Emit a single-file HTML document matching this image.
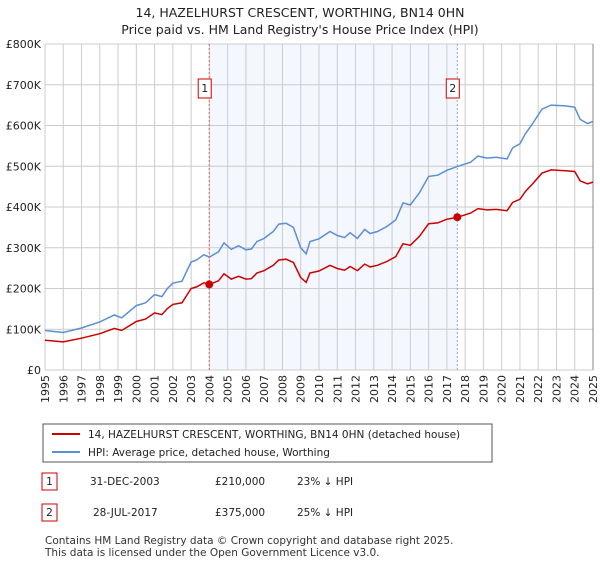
<!DOCTYPE html>
<html><head><meta charset="utf-8"><style>
body{margin:0;background:#fff;font-family:"Liberation Sans","DejaVu Sans",sans-serif;}
svg text{font-family:"DejaVu Sans","Liberation Sans",sans-serif;}
</style></head><body>
<svg id="chart" width="600" height="560" xmlns="http://www.w3.org/2000/svg">
<text x="300" y="17" text-anchor="middle" font-size="12.5" fill="#222">14, HAZELHURST CRESCENT, WORTHING, BN14 0HN</text>
<text x="300" y="34" text-anchor="middle" font-size="12.5" fill="#222">Price paid vs. HM Land Registry's House Price Index (HPI)</text>
<g id="plot"></g>
<g>
<rect x="43" y="424" width="449" height="38" fill="#fff" stroke="#555"/>
<line x1="52" y1="434" x2="80" y2="434" stroke="#cc0000" stroke-width="2"/>
<text x="88" y="438" font-size="10.5" fill="#222">14, HAZELHURST CRESCENT, WORTHING, BN14 0HN (detached house)</text>
<line x1="52" y1="452" x2="80" y2="452" stroke="#5b8fd4" stroke-width="2"/>
<text x="88" y="456" font-size="10.5" fill="#222">HPI: Average price, detached house, Worthing</text>
</g>
<g font-size="10.5" fill="#222">
<rect x="42" y="473" width="15" height="17" fill="#fff" stroke="#cc0000"/>
<text x="49.5" y="485" text-anchor="middle">1</text>
<text x="90" y="485">31-DEC-2003</text><text x="215" y="485">£210,000</text><text x="297" y="485">23% ↓ HPI</text>
<rect x="42" y="504" width="15" height="17" fill="#fff" stroke="#cc0000"/>
<text x="49.5" y="516" text-anchor="middle">2</text>
<text x="93" y="516">28-JUL-2017</text><text x="215" y="516">£375,000</text><text x="297" y="516">25% ↓ HPI</text>
</g>
<text x="45" y="544" font-size="10.5" fill="#333">Contains HM Land Registry data © Crown copyright and database right 2025.</text>
<text x="45" y="556" font-size="10.5" fill="#333">This data is licensed under the Open Government Licence v3.0.</text>
</svg>
<script>
const hpiYears=[1995,1996,1997,1998,1998.8,1999.2,2000,2000.5,2001,2001.4,2001.7,2002,2002.5,2003,2003.3,2003.7,2004,2004.5,2004.8,2005.2,2005.6,2006,2006.3,2006.6,2007,2007.5,2007.8,2008.2,2008.6,2009,2009.3,2009.5,2010,2010.6,2011,2011.4,2011.7,2012.1,2012.5,2012.8,2013.2,2013.7,2014.2,2014.6,2015,2015.5,2016,2016.5,2017,2017.6,2018.3,2018.7,2019.2,2019.7,2020.3,2020.6,2021,2021.3,2021.7,2022.2,2022.7,2023.5,2024,2024.3,2024.7,2025];
const hpiValues=[97,92,103,118,135,128,158,165,185,180,200,213,218,265,270,283,277,290,312,296,305,295,297,315,323,340,358,360,350,300,285,315,322,340,330,325,337,323,345,335,340,352,368,410,405,435,475,478,490,500,510,525,520,522,518,545,555,580,605,640,650,648,645,615,605,610];
const propValues=[73,69,78,89,102,97,119,125,140,136,151,161,165,200,204,214,210,219,236,223,230,223,224,238,244,257,270,272,264,227,215,238,243,257,249,245,254,244,260,253,257,266,278,310,306,328,359,361,370,375,385,396,393,394,391,411,419,438,457,483,491,489,487,464,457,461];
const saleYears=[2003.99,2017.57];
const saleValues=[210,375];
const saleLabels=["1","2"];
const yTicks=[0,100,200,300,400,500,600,700,800];
const yTickLabels=["£0","£100K","£200K","£300K","£400K","£500K","£600K","£700K","£800K"];
const xTicks=[1995,1996,1997,1998,1999,2000,2001,2002,2003,2004,2005,2006,2007,2008,2009,2010,2011,2012,2013,2014,2015,2016,2017,2018,2019,2020,2021,2022,2023,2024,2025];

const L=45,R=593,T=44,B=370;
const xs=y=>L+(y-1995)/30*(R-L);
const ys=v=>B-v/800*(B-T);
const NS="http://www.w3.org/2000/svg";
const g=document.getElementById('plot');
function mk(tag,attrs,parent){const e=document.createElementNS(NS,tag);for(const k in attrs)e.setAttribute(k,attrs[k]);(parent||g).appendChild(e);return e;}

const shade=mk('rect',{x:xs(saleYears[0]),y:T,width:xs(saleYears[1])-xs(saleYears[0]),height:B-T,fill:'#f4f7fe'});


yTicks.forEach((v,i)=>{
  const l=mk('line',{x1:L,x2:R,y1:ys(v),y2:ys(v),stroke:'#cccccc','stroke-width':1});
  
  
  const t=mk('text',{x:L-4,y:ys(v)+4,'text-anchor':'end','font-size':11,fill:'#222'});
  t.textContent=yTickLabels[i];
  
  
});
xTicks.forEach(y=>{
  const l=mk('line',{x1:xs(y),x2:xs(y),y1:T,y2:B,stroke:'#cccccc','stroke-width':1});
  
  
  const t=mk('text',{x:0,y:0,'text-anchor':'end','font-size':11,fill:'#222',transform:`translate(${xs(y)+4},${B+5}) rotate(-90)`});
  t.textContent=y;
  
  
});
const ax=mk('line',{x1:R,x2:R,y1:T,y2:B,stroke:'#888','stroke-width':1});


function pts(vals){return hpiYears.map((y,i)=>xs(y).toFixed(1)+','+ys(vals[i]).toFixed(1)).join(' ');}
const hl=mk('polyline',{points:pts(hpiValues),fill:'none',stroke:'#5b8fd4','stroke-width':1.5});


const pl=mk('polyline',{points:pts(propValues),fill:'none',stroke:'#cc0000','stroke-width':1.5});


saleYears.forEach((y,i)=>{
  const v=mk('line',{x1:xs(y),x2:xs(y),y1:T,y2:B,stroke:i==0?'#e06060':'#8aa8e0','stroke-width':1,'stroke-dasharray':'2,2'});
  
  
  const c=mk('circle',{cx:xs(y),cy:ys(saleValues[i]),r:4,fill:'#cc0000'});
  
  
  const b=mk('rect',{x:xs(y)-11,y:79,width:13,height:19,fill:'#fff',stroke:'#cc0000'});
  
  
  const t=mk('text',{x:xs(y)-4.5,y:92,'text-anchor':'middle','font-size':11,fill:'#222'});
  t.textContent=saleLabels[i];
  
  
});
</script>
</body></html>
